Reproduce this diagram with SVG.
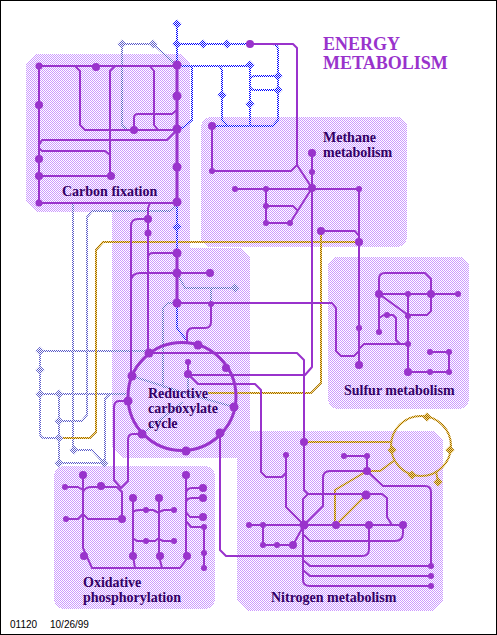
<svg xmlns="http://www.w3.org/2000/svg" width="497" height="635" viewBox="0 0 497 635">
<style>
.reg{fill:url(#bgD);stroke:none}
.p{fill:none;stroke:#9933cc;stroke-width:2;stroke-linejoin:round}
.m{stroke-width:3}
.b{fill:none;stroke:url(#blD);stroke-width:2}
.l{fill:none;stroke:url(#liD);stroke-width:2}
.g{fill:none;stroke:url(#goD);stroke-width:2}
.n{fill:#9933cc}
.db{fill:url(#blD)}
.dl{fill:url(#liD)}
.dg{fill:url(#goD)}
.t{font-family:"Liberation Serif","Times New Roman",serif;font-weight:bold;font-size:14px;fill:#330066}
.h{font-family:"Liberation Serif","Times New Roman",serif;font-weight:bold;font-size:18px;fill:#9933cc}
.s{font-family:"Liberation Sans",Arial,sans-serif;font-size:10px;fill:#000}
</style>
<defs>
<pattern id="bgD" width="2" height="2" patternUnits="userSpaceOnUse"><rect width="2" height="2" fill="#ffffff"/><rect width="1" height="1" fill="#cc99ff"/><rect x="1" y="1" width="1" height="1" fill="#cc99ff"/></pattern>
<pattern id="blD" width="2" height="2" patternUnits="userSpaceOnUse"><rect width="2" height="2" fill="#ffffff"/><rect width="1" height="1" fill="#0000ff"/><rect x="1" y="1" width="1" height="1" fill="#0000ff"/></pattern>
<pattern id="liD" width="2" height="2" patternUnits="userSpaceOnUse"><rect width="2" height="2" fill="#ffffff"/><rect width="1" height="1" fill="#5a5ac8"/><rect x="1" y="1" width="1" height="1" fill="#5a5ac8"/></pattern>
<pattern id="goD" width="2" height="2" patternUnits="userSpaceOnUse"><rect width="2" height="2" fill="#ffe080"/><rect width="1" height="1" fill="#996600"/><rect x="1" y="1" width="1" height="1" fill="#996600"/></pattern>
</defs>
<rect x="0" y="0" width="497" height="635" fill="#ffffff"/>
<g id="regions" shape-rendering="crispEdges">
<path class="reg" d="M36,54H180L190,64V248H240L250,258V431H433L443,441V601L433,611H247L237,601V458H122L112,448V212H36L26,202V64Z"/>
<rect class="reg" x="201" y="117" width="206" height="130" rx="10"/>
<rect class="reg" x="328" y="257" width="141" height="152" rx="10"/>
<rect class="reg" x="54" y="466" width="161" height="143" rx="10"/>
</g>
<g id="connectors">
<g id="light-links">
<path class="l" d="M122,44H153L174,63M122,44V125L127,130H134"/>
<path class="l" d="M73,203V450M177,205L170,211H92L87,217V415L82,421H59"/>
<path class="l" d="M40,351H149M40,351V433Q40,438 45,438H59M40,394H126M110,394L105,399V463M59,394V463M74,450H92L104,463H59"/>
<path class="l" d="M178,275L185,288H235M211,288V303M177,303H168L163,308V388"/>
<path class="l" d="M132,376L163,386L188,394L234,407M188,374V394M142,434L183,402"/>
</g>
<g id="gold-links">
<path class="g" d="M59,438H90L96,432V250L103,242H358"/>
<path class="g" d="M321,231V383L311,393H208"/>
<circle class="g" cx="421" cy="446" r="30"/>
<path class="g" d="M304,442H392M367,471H380L395,460M367,471L335,490V525M366,495L336,525M438,482L436,471"/>
</g>
<g id="blue-links">
<path class="b" d="M177,24V65M177,44H250M177,66H250M192,67V120L184,127L177,130M220,67L222,70V120L228,126H273L278,120V50Q278,44 272,44H250M250,67V126M250,80Q250,76 255,76H278M250,85Q250,90 255,90H278M212,126H273"/>
<path class="b" d="M177,203V253M177,303V328L187,341"/>
</g>
<g id="purple-links">
<path class="p m" d="M177,65V203M177,253V303"/>
<path class="p" d="M39,66H177M39,66V203H177M75,66L80,71V125L85,130H177M115,66L110,71V176M150,66L154,71V125L158,130M134,130V118Q134,114 138,114H172L177,110M39,145L42,140H167L177,130M39,148L42,151H105L110,155M39,176H111"/>
<path class="p" d="M250,44H293L297,48V165L312,188M297,165L291,171H212V126M312,153V367L305,375H188M235,189H359V365M266,189V223H290L312,188M266,206H293L297,210M321,231H355L359,236"/>
<path class="p" d="M379,294H458M379,294V332M379,294V279Q379,273 385,273H425L431,279V311L427,315H408M408,294V372M379,294L408,315M387,315H393L396,318V340L400,344H408M379,318L384,315H387M408,344H364L359,349M177,303H332L336,308V351L341,356H354L359,351M408,372H449V352H430"/>
<path class="p" d="M150,203L148,208V353M148,219H138Q131,219 131,226V376M131,282Q131,273 140,273H210M148,258Q148,253 153,253H177M211,304V322Q211,328 205,328H193Q187,328 187,335V343M149,353H297L304,360V490L308,494H382L387,498V517L392,525M188,362V374M188,374L198,384H255L261,390V472L266,477H282L286,473"/>
<path class="p" d="M128,401H119Q114,401 114,408V480L121,488L128,481V440Q128,434 133,434H142M220,433V550L226,556H362Q369,556 369,549V525"/>
<circle class="p m" cx="182" cy="396.500" r="54"/>
<path class="p" d="M249,525H403M263,525V545H293L304,525M308,494L303,499V580Q303,586 310,586H431M303,560L310,566H431M303,570L310,576H431M286,455V507L304,525M304,525L323,506V478Q323,471 330,471H367V456H344M367,471L383,486H425Q431,486 431,492V566M403,525V533Q403,541 395,541H310L304,535"/>
<path class="p" d="M83,475V548L92,568H180L186,560V475M133,498V556L135,568M159,498V556L162,568M65,487H78L83,490M66,519H78L83,514M83,492Q85,487 92,487H117L122,492V519M83,514L88,519H122M133,512Q135,510 140,510H153L159,513M159,512L164,510H174M133,538L137,541H155L159,538M159,539L163,541H174M186,494Q186,488 192,488H203M186,503Q186,498 192,498H203M186,512L190,517H203M186,521L191,527H204V568"/>
</g>
</g>
<g id="carbon-fixation-nodes">
<g id="c1"><circle class="n" cx="39" cy="66" r="3.500"/></g>
<g id="c2"><circle class="n" cx="96" cy="67" r="4"/></g>
<g id="c3"><circle class="n" cx="177" cy="65" r="4.500"/></g>
<g id="c4"><circle class="n" cx="177" cy="96" r="4.500"/></g>
<g id="c5"><circle class="n" cx="177" cy="129" r="4.500"/></g>
<g id="c6"><circle class="n" cx="177" cy="167" r="4.500"/></g>
<g id="c7"><circle class="n" cx="177" cy="202" r="4.500"/></g>
<g id="c8"><circle class="n" cx="39" cy="105" r="4"/></g>
<g id="c9"><circle class="n" cx="39" cy="159" r="4"/></g>
<g id="c10"><circle class="n" cx="39" cy="176" r="4"/></g>
<g id="c11"><circle class="n" cx="111" cy="176" r="4"/></g>
<g id="c12"><circle class="n" cx="39" cy="203" r="3.500"/></g>
<g id="c13"><circle class="n" cx="134" cy="130" r="4"/></g>
</g>
<g id="blue-nodes">
<g id="b1"><path class="db" d="M177,19.500l4.500,4.500l-4.500,4.500l-4.500,-4.500z"/></g>
<g id="b2"><path class="db" d="M177,39.500l4.500,4.500l-4.500,4.500l-4.500,-4.500z"/></g>
<g id="b3"><path class="db" d="M203,39.500l4.500,4.500l-4.500,4.500l-4.500,-4.500z"/></g>
<g id="b4"><path class="db" d="M227,39.500l4.500,4.500l-4.500,4.500l-4.500,-4.500z"/></g>
<g id="b5"><path class="db" d="M250,60.500l4.500,4.500l-4.500,4.500l-4.500,-4.500z"/></g>
<g id="b6"><path class="db" d="M222,90.500l4.500,4.500l-4.500,4.500l-4.500,-4.500z"/></g>
<g id="b7"><path class="db" d="M250,99.500l4.500,4.500l-4.500,4.500l-4.500,-4.500z"/></g>
<g id="b8"><path class="db" d="M278,71.500l4.500,4.500l-4.500,4.500l-4.500,-4.500z"/></g>
<g id="b9"><path class="db" d="M278,85.500l4.500,4.500l-4.500,4.500l-4.500,-4.500z"/></g>
<g id="b10"><path class="db" d="M177,222.500l4.500,4.500l-4.500,4.500l-4.500,-4.500z"/></g>
</g>
<g id="light-nodes">
<g id="l1"><path class="dl" d="M122,39.500l4.500,4.500l-4.500,4.500l-4.500,-4.500z"/></g>
<g id="l2"><path class="dl" d="M153,39.500l4.500,4.500l-4.500,4.500l-4.500,-4.500z"/></g>
<g id="l3"><path class="dl" d="M40,346.500l4.500,4.500l-4.500,4.500l-4.500,-4.500z"/></g>
<g id="l4"><path class="dl" d="M40,365.500l4.500,4.500l-4.500,4.500l-4.500,-4.500z"/></g>
<g id="l5"><path class="dl" d="M40,389.500l4.500,4.500l-4.500,4.500l-4.500,-4.500z"/></g>
<g id="l6"><path class="dl" d="M59,389.500l4.500,4.500l-4.500,4.500l-4.500,-4.500z"/></g>
<g id="l7"><path class="dl" d="M59,416.500l4.500,4.500l-4.500,4.500l-4.500,-4.500z"/></g>
<g id="l8"><path class="dl" d="M59,433.500l4.500,4.500l-4.500,4.500l-4.500,-4.500z"/></g>
<g id="l9"><path class="dl" d="M74,445.500l4.500,4.500l-4.500,4.500l-4.500,-4.500z"/></g>
<g id="l10"><path class="dl" d="M59,458.500l4.500,4.500l-4.500,4.500l-4.500,-4.500z"/></g>
<g id="l11"><path class="dl" d="M104,458.500l4.500,4.500l-4.500,4.500l-4.500,-4.500z"/></g>
<g id="l12"><path class="dl" d="M235,283.500l4.500,4.500l-4.500,4.500l-4.500,-4.500z"/></g>
</g>
<g id="gold-nodes">
<g id="g1"><path class="dg" d="M427,412.500l4.500,4.500l-4.500,4.500l-4.500,-4.500z"/></g>
<g id="g2"><path class="dg" d="M450,445.500l4.500,4.500l-4.500,4.500l-4.500,-4.500z"/></g>
<g id="g3"><path class="dg" d="M392,445.500l4.500,4.500l-4.500,4.500l-4.500,-4.500z"/></g>
<g id="g4"><path class="dg" d="M412,470.500l4.500,4.500l-4.500,4.500l-4.500,-4.500z"/></g>
<g id="g5"><path class="dg" d="M438,477.500l4.500,4.500l-4.500,4.500l-4.500,-4.500z"/></g>
</g>
<g id="methane-nodes">
<g id="m1"><circle class="n" cx="250" cy="44" r="4"/></g>
<g id="m2"><circle class="n" cx="212" cy="126" r="4"/></g>
<g id="m3"><circle class="n" cx="212" cy="171" r="3"/></g>
<g id="m4"><circle class="n" cx="312" cy="153" r="4"/></g>
<g id="m5"><circle class="n" cx="312" cy="172" r="3"/></g>
<g id="m6"><circle class="n" cx="312" cy="188" r="4"/></g>
<g id="m7"><circle class="n" cx="235" cy="189" r="3"/></g>
<g id="m8"><circle class="n" cx="266" cy="189" r="3"/></g>
<g id="m9"><circle class="n" cx="359" cy="189" r="3"/></g>
<g id="m10"><circle class="n" cx="266" cy="206" r="3"/></g>
<g id="m11"><circle class="n" cx="266" cy="223" r="3"/></g>
<g id="m12"><circle class="n" cx="290" cy="223" r="3"/></g>
<g id="m13"><circle class="n" cx="321" cy="231" r="4"/></g>
<g id="m14"><circle class="n" cx="359" cy="242" r="4"/></g>
</g>
<g id="sulfur-nodes">
<g id="s1"><circle class="n" cx="379" cy="294" r="4"/></g>
<g id="s2"><circle class="n" cx="408" cy="294" r="3"/></g>
<g id="s3"><circle class="n" cx="431" cy="294" r="4"/></g>
<g id="s4"><circle class="n" cx="458" cy="294" r="3"/></g>
<g id="s5"><circle class="n" cx="387" cy="315" r="3"/></g>
<g id="s6"><circle class="n" cx="408" cy="316" r="3"/></g>
<g id="s7"><circle class="n" cx="379" cy="332" r="3"/></g>
<g id="s8"><circle class="n" cx="408" cy="344" r="3"/></g>
<g id="s9"><circle class="n" cx="430" cy="352" r="3"/></g>
<g id="s10"><circle class="n" cx="449" cy="352" r="3"/></g>
<g id="s11"><circle class="n" cx="408" cy="372" r="4"/></g>
<g id="s12"><circle class="n" cx="430" cy="372" r="3"/></g>
<g id="s13"><circle class="n" cx="449" cy="372" r="3"/></g>
<g id="s14"><circle class="n" cx="359" cy="328" r="3"/></g>
<g id="s15"><circle class="n" cx="359" cy="365" r="4"/></g>
</g>
<g id="reductive-nodes">
<g id="r1"><circle class="n" cx="148" cy="219" r="4"/></g>
<g id="r2"><circle class="n" cx="148" cy="233" r="3.500"/></g>
<g id="r3"><circle class="n" cx="177" cy="253" r="4.500"/></g>
<g id="r4"><circle class="n" cx="177" cy="273" r="4.500"/></g>
<g id="r5"><circle class="n" cx="210" cy="273" r="4"/></g>
<g id="r6"><circle class="n" cx="177" cy="303" r="4.500"/></g>
<g id="r7"><circle class="n" cx="211" cy="304" r="3"/></g>
<g id="r8"><circle class="n" cx="149" cy="353" r="4.500"/></g>
<g id="r9"><circle class="n" cx="198" cy="345" r="4.500"/></g>
<g id="r10"><circle class="n" cx="226" cy="368" r="4"/></g>
<g id="r11"><circle class="n" cx="188" cy="362" r="3"/></g>
<g id="r12"><circle class="n" cx="188" cy="374" r="4"/></g>
<g id="r13"><circle class="n" cx="132" cy="376" r="4.500"/></g>
<g id="r14"><circle class="n" cx="128" cy="401" r="4.500"/></g>
<g id="r15"><circle class="n" cx="234" cy="407" r="4.500"/></g>
<g id="r16"><circle class="n" cx="220" cy="433" r="4.500"/></g>
<g id="r17"><circle class="n" cx="142" cy="434" r="4.500"/></g>
<g id="r18"><circle class="n" cx="186" cy="451" r="4.500"/></g>
</g>
<g id="nitrogen-nodes">
<g id="x1"><circle class="n" cx="304" cy="442" r="4"/></g>
<g id="x2"><circle class="n" cx="286" cy="455" r="3"/></g>
<g id="x3"><circle class="n" cx="344" cy="456" r="3"/></g>
<g id="x4"><circle class="n" cx="367" cy="456" r="3"/></g>
<g id="x5"><circle class="n" cx="367" cy="471" r="4"/></g>
<g id="x6"><circle class="n" cx="366" cy="495" r="4.500"/></g>
<g id="x7"><circle class="n" cx="249" cy="525" r="3"/></g>
<g id="x8"><circle class="n" cx="263" cy="525" r="3"/></g>
<g id="x9"><circle class="n" cx="304" cy="525" r="4.500"/></g>
<g id="x10"><circle class="n" cx="336" cy="525" r="4"/></g>
<g id="x11"><circle class="n" cx="369" cy="525" r="4"/></g>
<g id="x12"><circle class="n" cx="403" cy="525" r="4"/></g>
<g id="x13"><circle class="n" cx="263" cy="545" r="3"/></g>
<g id="x14"><circle class="n" cx="277" cy="545" r="3"/></g>
<g id="x15"><circle class="n" cx="293" cy="545" r="4"/></g>
<g id="x16"><circle class="n" cx="431" cy="566" r="3"/></g>
<g id="x17"><circle class="n" cx="431" cy="576" r="3"/></g>
<g id="x18"><circle class="n" cx="431" cy="586" r="3"/></g>
</g>
<g id="oxidative-nodes">
<g id="o1"><circle class="n" cx="83" cy="475" r="4"/></g>
<g id="o2"><circle class="n" cx="65" cy="487" r="3"/></g>
<g id="o3"><circle class="n" cx="101" cy="486" r="4"/></g>
<g id="o4"><circle class="n" cx="66" cy="519" r="3"/></g>
<g id="o5"><circle class="n" cx="122" cy="519" r="4"/></g>
<g id="o6"><circle class="n" cx="84" cy="556" r="4"/></g>
<g id="o7"><circle class="n" cx="133" cy="498" r="4"/></g>
<g id="o8"><circle class="n" cx="159" cy="498" r="4"/></g>
<g id="o9"><circle class="n" cx="146" cy="510" r="3"/></g>
<g id="o10"><circle class="n" cx="174" cy="510" r="3"/></g>
<g id="o11"><circle class="n" cx="146" cy="541" r="3"/></g>
<g id="o12"><circle class="n" cx="174" cy="541" r="3"/></g>
<g id="o13"><circle class="n" cx="133" cy="556" r="4"/></g>
<g id="o14"><circle class="n" cx="160" cy="556" r="4"/></g>
<g id="o15"><circle class="n" cx="186" cy="475" r="4"/></g>
<g id="o16"><circle class="n" cx="203" cy="488" r="4"/></g>
<g id="o17"><circle class="n" cx="203" cy="498" r="4"/></g>
<g id="o18"><circle class="n" cx="203" cy="517" r="4"/></g>
<g id="o19"><circle class="n" cx="204" cy="527" r="3"/></g>
<g id="o20"><circle class="n" cx="204" cy="553" r="3"/></g>
<g id="o21"><circle class="n" cx="204" cy="568" r="3"/></g>
<g id="o22"><circle class="n" cx="187" cy="556" r="4"/></g>
</g>
<g id="labels">
<text class="h" x="323" y="50">ENERGY</text>
<text class="h" x="323" y="69">METABOLISM</text>
<text class="t" x="62" y="196">Carbon fixation</text>
<text class="t" x="323" y="142">Methane</text>
<text class="t" x="323" y="157">metabolism</text>
<text class="t" x="344" y="395">Sulfur metabolism</text>
<text class="t" x="148" y="398">Reductive</text>
<text class="t" x="148" y="413">carboxylate</text>
<text class="t" x="148" y="428">cycle</text>
<text class="t" x="83" y="587">Oxidative</text>
<text class="t" x="83" y="602">phosphorylation</text>
<text class="t" x="271" y="602">Nitrogen metabolism</text>
<text class="s" x="10" y="628">01120</text>
<text class="s" x="50" y="628">10/26/99</text>
</g>
<rect x="0.500" y="0.500" width="496" height="634" fill="none" stroke="#000" stroke-width="1"/>
</svg>
